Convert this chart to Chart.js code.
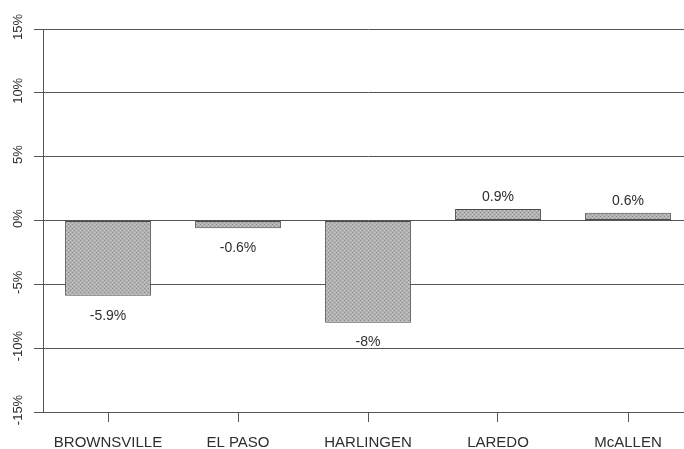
<!DOCTYPE html>
<html>
<head>
<meta charset="utf-8">
<script src="https://cdn.jsdelivr.net/npm/chart.js"></script>
<style>
  html, body { margin: 0; padding: 0; background: #fff; overflow: hidden; }
  canvas { display: block; }
</style>
</head>
<body>
<canvas id="cityChart" width="693" height="449"></canvas>
<script>
// chart data
const cities = ['BROWNSVILLE', 'EL PASO', 'HARLINGEN', 'LAREDO', 'McALLEN'];
const changes = [-5.9, -0.6, -8, 0.9, 0.6];
const valueLabels = ['-5.9%', '-0.6%', '-8%', '0.9%', '0.6%'];
const yTicks = [-15, -10, -5, 0, 5, 10, 15];

const font = "'Liberation Sans', Arial, sans-serif";
const ink = '#2e2e2e';

// dotted grey fill, like the scanned halftone
function makePattern() {
    const c = document.createElement('canvas');
    c.width = 4; c.height = 4;
    const g = c.getContext('2d');
    g.fillStyle = '#b2b2b2';
    g.fillRect(0, 0, 4, 4);
    g.fillStyle = '#8a8a8a';
    g.fillRect(0, 0, 1, 1);
    g.fillRect(2, 2, 1, 1);
    g.fillStyle = '#c6c6c6';
    g.fillRect(2, 0, 1, 1);
    g.fillRect(0, 2, 1, 1);
    return g.createPattern(c, 'repeat');
}

// rotated y tick labels
const yLabelPlugin = {
    id: 'yLabels',
    afterDraw(chart) {
        const y = chart.scales.y;
        const ctx = chart.ctx;
        ctx.save();
        ctx.font = '13px ' + font;
        ctx.fillStyle = ink;
        ctx.textAlign = 'center';
        ctx.textBaseline = 'middle';
        yTicks.forEach(v => {
            ctx.save();
            ctx.translate(18, y.getPixelForValue(v) - 2);
            ctx.rotate(-Math.PI / 2);
            ctx.fillText(v + '%', 0, 0);
            ctx.restore();
        });
        ctx.restore();
    }
};

// value labels above / below bars
const valuePlugin = {
    id: 'values',
    afterDatasetsDraw(chart) {
        const ctx = chart.ctx;
        const meta = chart.getDatasetMeta(0);
        ctx.save();
        ctx.font = '14px ' + font;
        ctx.fillStyle = ink;
        ctx.textAlign = 'center';
        ctx.textBaseline = 'middle';
        meta.data.forEach((bar, i) => {
            const v = changes[i];
            const yy = v < 0 ? bar.y + 20 : bar.y - 12;
            ctx.fillText(valueLabels[i], bar.x, yy);
        });
        ctx.restore();
    }
};

const ctx = document.getElementById('cityChart').getContext('2d');

const cityChart = new Chart(ctx, {
    type: 'bar',
    data: {
        labels: cities,
        datasets: [{
            data: changes,
            backgroundColor: makePattern(),
            borderColor: '#4a4a4a',
            borderWidth: 1,
            borderSkipped: false,
            barPercentage: 0.66,
            categoryPercentage: 1
        }]
    },
    options: {
        responsive: false,
        animation: false,
        layout: { padding: { left: 34, top: 29, right: 0, bottom: 0 } },
        plugins: { legend: { display: false }, tooltip: { enabled: false } },
        scales: {
            x: {
                offset: true,
                afterFit(scale) { scale.height = 37; },
                grid: { offset: false, drawOnChartArea: false, tickLength: 10, color: '#555' },
                border: { display: false },
                ticks: { color: ink, font: { family: font, size: 15 }, padding: 12, maxRotation: 0 }
            },
            y: {
                min: -15,
                max: 15,
                afterFit(scale) { scale.width = 9; },
                grid: { color: '#555', tickLength: 9, lineWidth: 1 },
                border: { display: true, color: '#555' },
                ticks: { stepSize: 5, display: false }
            }
        }
    },
    plugins: [yLabelPlugin, valuePlugin]
});
</script>
</body>
</html>
